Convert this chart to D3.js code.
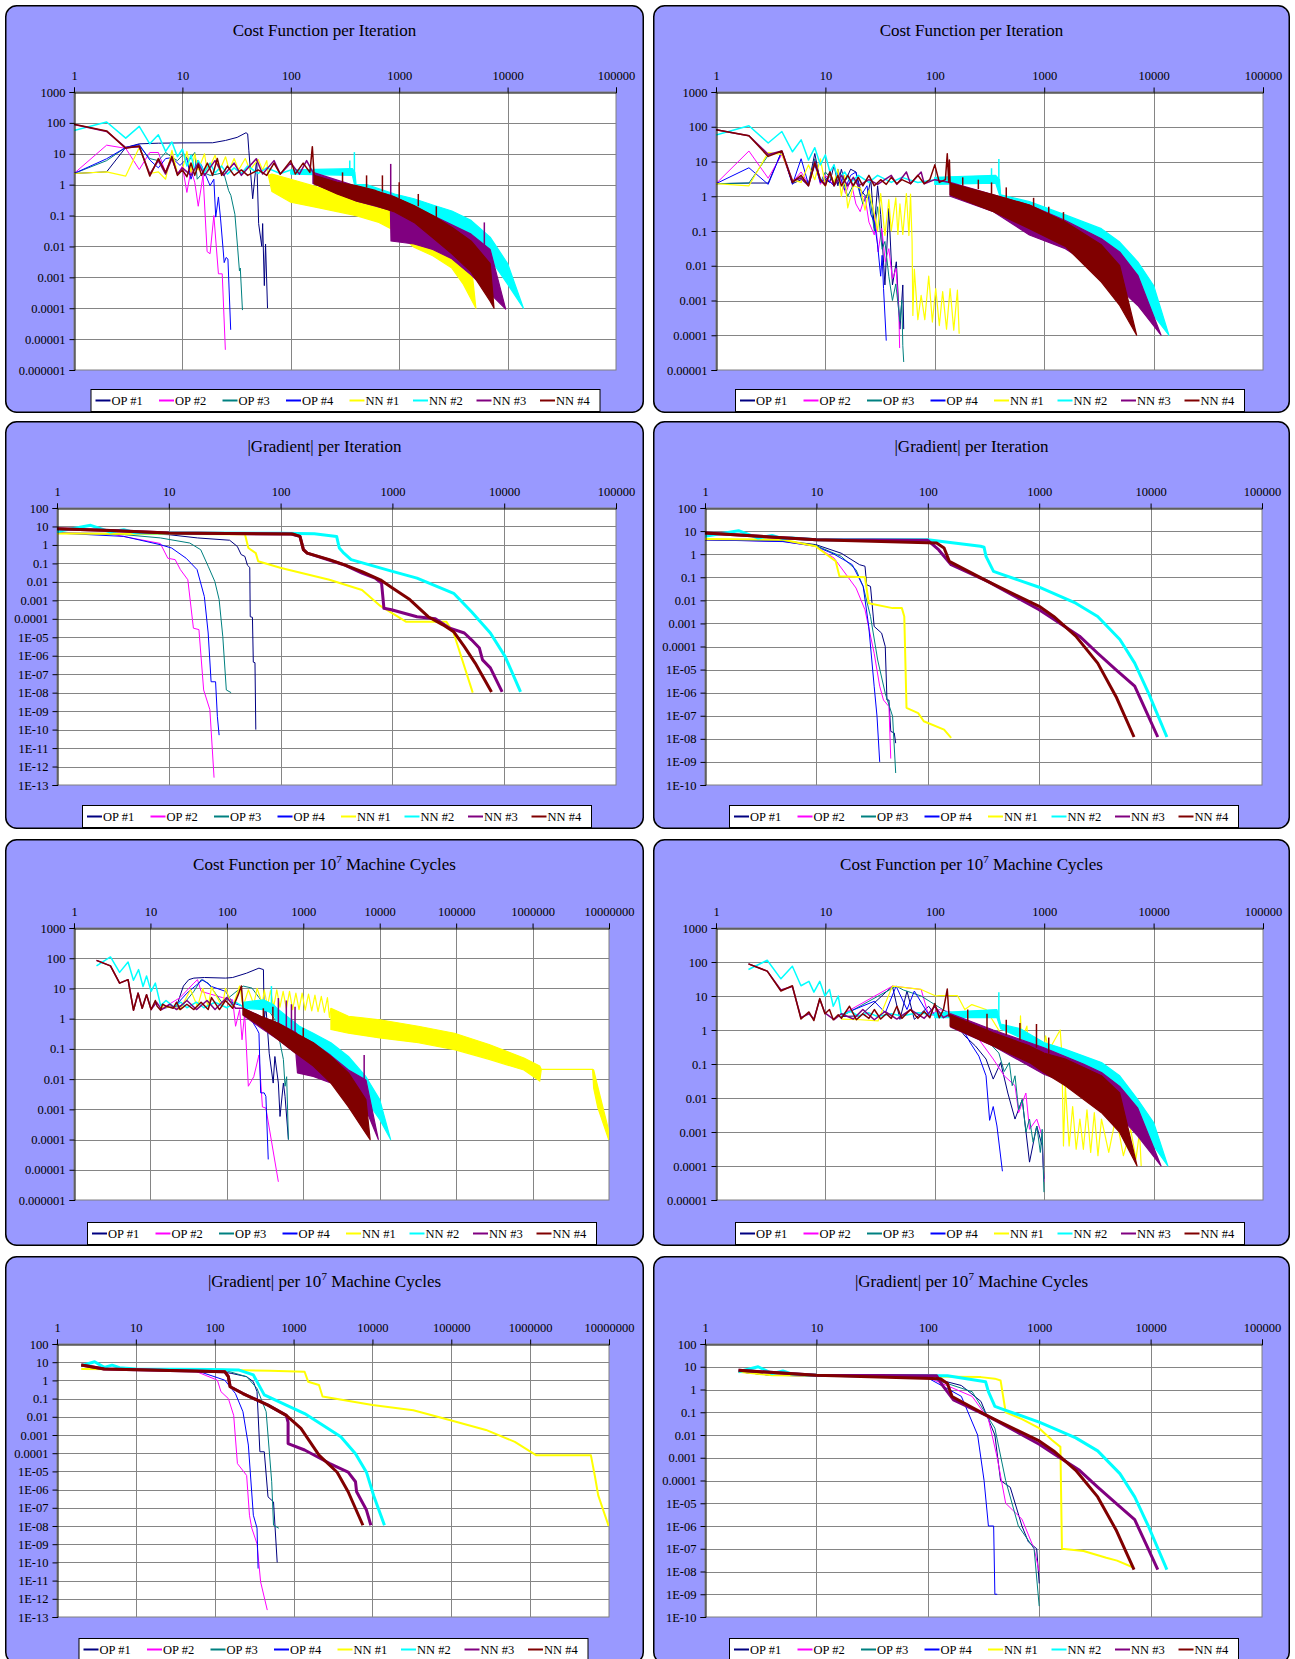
<!DOCTYPE html>
<html>
<head>
<meta charset="utf-8">
<script src="https://cdn.jsdelivr.net/npm/d3@7"></script>
<style>
  body { margin: 0; background: #ffffff; }
  svg text { font-family: "Liberation Serif", "Times New Roman", Times, serif; fill: #000; }
</style>
</head>
<body>
<svg id="chart" width="1295" height="1659"></svg>
<script>
// ---------- series, colours, tick labels ----------
const seriesNames  = ["OP #1", "OP #2", "OP #3", "OP #4", "NN #1", "NN #2", "NN #3", "NN #4"];
const seriesColors = ["#000080", "#FF00FF", "#008080", "#0000FF", "#FFFF00", "#00FFFF", "#800080", "#800000"];
const xTickLabels    = ["1", "10", "100", "1000", "10000", "100000", "1000000", "10000000"];
const costTickLabels = ["1000", "100", "10", "1", "0.1", "0.01", "0.001", "0.0001", "0.00001", "0.000001"];
const gradTickLabels = ["100", "10", "1", "0.1", "0.01", "0.001", "0.0001", "1E-05", "1E-06", "1E-07",
                        "1E-08", "1E-09", "1E-10", "1E-11", "1E-12", "1E-13"];

// Series are [x, y] points; dense oscillating stretches are [x, upper, lower] envelopes;
// isolated spikes are [x, base, peak].

// ---------- A: cost per iteration (left) ----------
const A_op1 = [[1,2.3],[2,2.6],[3,16],[4,21],[6,22],[10,22.5],[19,22.7],[25,27],[32,34],[38.6,48],[40,44],[41,13],[44.5,0.35],[48.5,6.9],[50.5,0.055],[54,0.01],[55,0.055],[57,5.4e-4],[58.5,0.012],[61,1e-4]];
const A_op2 = [[1,2.3],[2,19],[3,15],[4,3.1],[5,11],[6,11],[7,2.5],[8,9],[9,2.2],[10,4],[11,0.56],[12,3],[13,1.2],[14,0.2],[15.5,2],[16.9,0.0068],[18,0.0058],[19.5,0.1],[21.5,0.0013],[23.3,0.0013],[24.9,4.5e-6]];
const A_op3 = [[1,2.3],[2,6],[3,16],[4,18],[5,7],[6,6],[7,11],[8,7.8],[9,6],[10.3,10],[11.5,6],[13,11],[13.7,1.5],[15.5,2.5],[18,2],[21,2.2],[24,2.5],[26.7,0.64],[28,0.45],[30.5,0.11],[32.3,0.0094],[33.6,0.0016],[34.2,0.002],[35.8,8.7e-5]];
const A_op4 = [[1,2.3],[2,6.9],[3,16],[4,20],[5,6.3],[6,3.5],[7,7],[8,7.5],[9.5,4.2],[11,7],[12,1.5],[13.7,6],[14.9,4.5],[18,0.93],[19.5,1.5],[20.3,0.089],[21.5,0.4],[22.5,0.078],[24.3,0.003],[25.3,0.0044],[26.3,0.0039],[27.9,2e-5]];
const A_nn1 = [[1,2.3],[2,2.6],[3,1.9],[4,16],[5,2.3],[6,2.6],[7,1.5],[8,13],[9,2.3],[10,3],[11,12],[12,2.5],[13,10],[14,3],[16,10],[17,2.5],[20,9],[22,2.8],[25,8],[27,3],[30,7],[33,3],[38,7],[42,3],[50,6.5],[55,3],[60,6],[62,2]];
const A_nn1_band = [[62,2,2],[67,2.2,0.6],[100,1.5,0.27],[178,0.83,0.18],[400,0.4,0.1],[650,0.21,0.06],[909,0.13,0.032],[1370,0.055,0.0094],[2040,0.04,0.005],[3060,0.025,0.002],[3900,0.01,6e-4],[4600,0.003,2e-4],[5100,1e-4,1e-4]];
const A_nn2 = [[1,57],[2,107],[3,32],[4,77],[5,21],[6,41],[7,12],[8,24],[9,8],[10,14],[11,4],[12,9],[13,3],[14,6],[16,2.5],[18,5],[20,2.4],[23,4],[26,2.2],[30,3.5],[35,2.3],[40,4],[50,2.3],[60,3.5],[80,2.3],[100,3]];
const A_nn2_band = [[100,3,2.2],[370,3.3,2],[390,2.5,0.9],[400,1,0.75],[500,1,0.6],[909,0.5,0.2],[1370,0.35,0.12],[2040,0.22,0.07],[3060,0.14,0.04],[4600,0.07,0.019],[6900,0.02,0.004],[10000,0.0028,6e-4],[14000,1e-4,1e-4]];
const A_nn2_spikes = [[350,2.5,6.1],[386,2.5,11.3]];
const A_nn3 = [[1,88],[2,53],[3,16],[4,17],[5,2.2],[6,6],[7,2.2],[8,7],[9,2.2],[10,3.5],[12,2],[14,5],[16,2],[20,6],[24,2],[30,5],[35,2],[48,6.9],[55,2.2],[70,6],[80,2.2],[100,5],[120,2.2],[140,6],[160,2.5]];
const A_nn3_band = [[160,2.5,1.1],[400,0.9,0.3],[830,0.45,0.15],[840,0.45,0.015],[1370,0.2,0.012],[2040,0.1,0.008],[3060,0.05,0.004],[4600,0.025,0.0012],[6900,0.008,3e-4],[9600,9.4e-5,9.4e-5]];
const A_nn3_spikes = [[835,0.45,4.7],[6100,0.01,0.06]];
const A_nn4 = [[1,91],[2,55],[3,15],[4,18],[5,1.9],[6,7],[7,2.5],[8,8],[9,2],[10,3],[11,1.8],[12,5],[13,2],[14,4.5],[15,2],[17,5],[19,2],[21,7],[23,2],[26,4],[30,2],[35,3],[40,2],[50,3],[60,2],[70,5],[80,2.2],[100,6],[110,2.2],[130,5],[150,2.5],[158,17],[164,2]];
const A_nn4_band = [[164,2,1.07],[267,1.2,0.5],[400,0.94,0.3],[604,0.65,0.21],[909,0.4,0.13],[1370,0.21,0.06],[2040,0.1,0.019],[3060,0.042,0.0058],[4600,0.015,0.0015],[6900,0.0028,1.7e-4],[7500,1e-4,1e-4]];
const A_nn4_spikes = [[300,1,2.5],[500,0.8,2],[700,0.6,2],[1000,0.35,1.2],[1500,0.2,0.5],[2200,0.08,0.2]];

// ---------- B: cost per iteration (right) ----------
const B_op1 = [[1,2.3],[2,2.4],[3,2.4],[4,20],[5,2.3],[6,3],[7,2.2],[8,17],[9,2.5],[10,3],[11,2.5],[12,8],[13,2],[14,6],[15,2.5],[17,6],[19,5],[21,1.5],[24,0.9],[26,3],[28,0.12],[30,2],[32,0.3],[35,0.0028],[38,0.45],[41,0.0028],[44.5,0.013],[48,1.5e-4],[51,0.0028],[52,1.5e-4]];
const B_op2 = [[1,2.3],[2,20],[3,3.3],[4,16],[5,2.5],[6,5],[7,2.3],[8,10],[9,2.2],[10,4],[12,2],[13,5],[15.3,1.2],[17,3],[19,0.6],[20.8,0.36],[23,1],[25,0.18],[28,0.077],[28.5,0.3],[30.3,0.025],[32.7,0.12],[35.3,0.013],[38,0.031],[41,0.0042],[44.3,0.0083],[47,3.7e-4],[47.7,4.3e-5]];
const B_op3 = [[1,2.3],[2,2.4],[3,15],[4,19],[5,2.5],[6,3.5],[7,2.3],[8,12],[9,2.5],[10,5],[12,2.5],[14,4],[16,1],[19,3],[22,0.6],[25,1.5],[28,0.1],[30,0.5],[33,0.03],[35,0.05],[38,0.005],[41,0.001],[44,0.003],[48,2.5e-4],[50,0.001],[51,5e-5],[52,1.7e-5]];
const B_op4 = [[1,2.3],[2,6.6],[3,2.2],[4,20],[5,2.2],[6,12],[7,2.2],[8,8],[9,2.5],[10,3.5],[12,2],[13,6],[15,1.5],[17,4],[19,5],[21,1],[24,2],[26,0.3],[28,0.18],[30,0.04],[32,0.005],[33,0.02],[34,0.0022],[36,7e-5]];
const B_nn1 = [[1,2.3],[2,2],[3,18],[4,16],[5,3],[6,2.5],[7,8],[8,3],[9,12],[10,2],[11,5],[12,2.5],[13,6],[14,1],[15,4],[16,0.46],[18,2],[21,1.7],[23,0.4],[25,1.5],[28,0.3],[30,0.1],[32,1.2],[35,0.075],[38,0.8],[40,0.1],[44,0.9],[46,0.08],[48,0.6],[51,0.08],[55,1.2],[58,0.075],[60,1.15],[62,0.05],[63,3.7e-4],[65,0.008],[70,2.8e-4],[75,0.0014],[81,2.8e-4],[88,0.005],[95,2.4e-4],[102,0.0022],[110,1.9e-4],[118,0.0018],[128,1.5e-4],[138,0.0022],[149,1.4e-4],[161,0.002],[167,1.1e-4]];
const B_nn2 = [[1,58],[2,107],[3,34],[4,73],[5,19],[6,42],[7,11],[8,25],[9,8],[10,15.5],[11,5],[12,8],[13,3],[15,5],[17,2.5],[20,4],[25,2.5],[30,4],[40,2.5],[50,3.5],[70,2.5],[100,3]];
const B_nn2_band = [[100,3.5,2.2],[360,4,2.4],[390,3,1.1],[400,1.1,0.56],[733,0.7,0.36],[1560,0.29,0.117],[3330,0.117,0.04],[4900,0.048,0.013],[7170,0.013,0.0022],[10000,0.0027,3.7e-4],[13800,1e-4,1e-4]];
const B_nn2_spikes = [[330,3,6.4],[385,2.4,11.8]];
const B_nn3 = [[1,82],[2,55],[3,16],[4,20],[5,2.8],[6,3.3],[7,2],[8,10],[9,3],[10,2.2],[11,5],[12,2],[14,4],[16,2],[18,3.5],[20,2],[25,3],[30,2.2],[40,4],[45,2.2],[55,5],[60,2.3],[75,5],[80,2.3],[100,3],[138,2.5]];
const B_nn3_band = [[138,2.5,1],[344,1.1,0.36],[733,0.56,0.077],[1560,0.2,0.031],[3330,0.06,0.0066],[4900,0.025,2.2e-3],[7170,0.0053,7.2e-4],[11700,1e-4,1e-4]];
const B_nn4 = [[1,82],[2,55],[3,14],[4,20],[5,2.5],[6,4],[7,2],[8,9],[9,3],[10,2],[11,5],[12,2],[13,4],[14,2],[16,4],[18,2],[20,3.5],[22,2],[25,4],[28,2],[32,3],[36,2.2],[40,3.5],[45,2.3],[50,3],[60,2.3],[70,4],[80,2.3],[90,3],[100,8],[110,2.5],[125,3],[130,16.6],[134,2.5],[136,11],[138,2.36]];
const B_nn4_band = [[138,2.36,1.1],[344,1.1,0.36],[733,0.56,0.117],[1560,0.18,0.036],[3330,0.04,0.0034],[4900,0.01,7.2e-4],[7000,1e-4,1e-4]];
const B_nn4_spikes = [[180,2,3.5],[250,1.6,3],[330,1.1,2.5],[450,0.9,1.8],[800,0.45,0.9],[1100,0.25,0.5],[1500,0.15,0.35]];

// ---------- C: |gradient| per iteration (left) ----------
const C_op1 = [[1,4.4],[5,4.1],[10,3.6],[18,2.4],[35,1.8],[41,0.83],[44.4,0.3],[47.9,0.24],[50.5,0.08],[53,0.06],[53.5,1.3e-4],[56,1.2e-4],[57,4.5e-7],[59,4.2e-7],[60,1e-10]];
const C_op2 = [[1,4.4],[3,4],[4.6,2.4],[8.4,1.2],[9.8,0.19],[11.4,0.16],[12.7,0.046],[14.8,0.013],[16.6,3.1e-5],[18.6,2.6e-5],[20.5,1.4e-8],[23.3,1.2e-9],[25.4,2.5e-13]];
const C_op3 = [[1,4.4],[4,3.6],[8.4,2.4],[15.4,1.27],[19.3,0.55],[22.5,0.07],[25.8,0.0105],[28.2,0.0011],[30.4,1.1e-5],[32.7,1.4e-8],[36.1,1e-8]];
const C_op4 = [[1,4.4],[3.95,2.9],[8.4,1.03],[10.6,0.68],[14.3,0.19],[17.9,0.046],[20.8,1.6e-3],[22.5,1.7e-5],[23.9,3.9e-8],[26.2,3.9e-8],[27.2,5e-10],[28.2,5e-11]];
const C_nn1 = [[1,4.1],[10,3.9],[48,3.8],[51.5,0.68],[60,0.36],[63,0.13],[101,0.056],[273,0.013],[535,0.0036],[780,5e-4],[1320,7e-5],[3030,7e-5],[3530,1.7e-5],[5230,1e-8]];
const C_nn2 = [[1,5.4],[2,11.5],[3,5],[3.95,6.7],[5,4.6],[10,4.4],[100,4.3],[200,4],[317,2.9],[335,0.68],[368,0.36],[427,0.16],[1000,0.037],[1660,0.016],[3530,0.0024],[5100,2.4e-4],[7520,1.7e-5],[10200,9e-7],[14000,1.1e-8]];
const C_nn3 = [[1,7.6],[3,6],[10,4.4],[124,3.9],[149,2.9],[160,0.55],[173,0.36],[368,0.085],[535,0.03],[700,0.016],[800,0.0085],[840,3.7e-4],[980,3.1e-4],[1660,1.3e-4],[2420,1e-4],[3260,3.1e-5],[4400,1.7e-5],[5100,7.3e-6],[6000,2.6e-6],[6400,6e-7],[7520,2.2e-7],[9580,1.1e-8]];
const C_nn4 = [[1,7.6],[3,6],[10,4.4],[128,3.9],[149,2.9],[160,0.55],[173,0.36],[273,0.16],[368,0.085],[535,0.036],[780,0.013],[1000,0.0046],[1430,1.1e-3],[2090,1.3e-4],[2830,4.7e-5],[3530,2e-5],[4400,3.1e-6],[5500,4e-7],[7700,1.1e-8]];

// ---------- D: |gradient| per iteration (right) ----------
const D_op1 = [[1,4.2],[5,3.8],[9.85,2.6],[16.7,1.1],[24.4,0.35],[27.3,0.3],[28.3,0.047],[30.6,0.04],[33,7.4e-4],[38.5,3.8e-4],[41.5,1e-4],[43,4.8e-7],[44.8,4.8e-7],[46.5,2.1e-8],[50,1.8e-8],[51.5,6.5e-9]];
const D_op2 = [[1,4.2],[5,3.6],[9.85,2.2],[14.4,0.68],[22.7,0.034],[27.3,3.9e-3],[33,5.1e-5],[37,1.9e-6],[40,4.8e-7],[44.8,2.5e-7],[46.5,1.4e-9]];
const D_op3 = [[1,4.2],[5,3.7],[9.85,2.4],[16.7,0.8],[22.7,0.21],[26.3,0.04],[30.6,2e-3],[35.5,2.6e-5],[41.5,9.3e-7],[48.3,9.5e-8],[51.5,3.3e-10]];
const D_op4 = [[1,4.2],[5,3.5],[9.85,2.2],[14.4,1],[21,0.35],[26.3,0.04],[29.5,7.4e-4],[33,1.9e-6],[35,9.5e-8],[37,1e-9]];
const D_nn1 = [[1,4.5],[5,4.2],[9.85,2.2],[14.9,0.49],[16.1,0.11],[27.3,0.1],[29.5,7.5e-3],[48.3,4.6e-3],[58.5,4.6e-3],[61.5,2e-3],[64.4,2.2e-7],[82,1.3e-7],[92,5.8e-8],[140,2.5e-8],[162,1.1e-8]];
const D_nn2 = [[1,5.9],[2,10.4],[3,5],[4,6.5],[5,4.7],[6,5],[10,4.2],[100,4.2],[298,2.2],[320,2],[333,0.8],[389,0.18],[470,0.13],[1000,0.037],[2130,7.5e-3],[3350,2e-3],[5300,2e-4],[7200,1.9e-5],[9600,9.3e-7],[14000,1.2e-8]];
const D_nn3 = [[1,8.3],[10,4.2],[100,4],[125,1.56],[162,0.35],[345,0.066],[1000,3.9e-3],[1350,1.5e-3],[2300,2.8e-4],[3350,5.1e-5],[4900,9.8e-6],[7200,1.9e-6],[9000,1.8e-7],[11600,1.2e-8]];
const D_nn4 = [[1,8.3],[10,4.2],[120,3.05],[140,1.85],[156,0.49],[345,0.066],[1000,5.5e-3],[1350,2e-3],[2130,2.8e-4],[3350,1.9e-5],[4900,6.7e-7],[7100,1.2e-8]];

// ---------- E: cost per 10^7 machine cycles (left) ----------
const E_op1 = [[14.4,2.2],[22,2.6],[27,12],[31.7,19.5],[37,22],[51,23],[96,22],[119,23],[181,32],[263,47],[301,42],[308,0.92],[324,2.6],[358,0.072],[404,0.0074],[425,0.056],[472,0.0074],[496,5.8e-4],[549,0.0074],[577,0.0027],[639,1e-4]];
const E_op2 = [[14.4,2.2],[24.5,5],[37,15],[41.3,19.5],[46,8],[87,5],[119,4.2],[130,0.56],[147,2],[158,0.2],[171,1.5],[191,0.0058],[225,0.012],[263,0.063],[292,0.0012],[324,0.0011],[472,4e-6]];
const E_op3 = [[22,2.4],[27,3],[37,8],[46,19.5],[57,15],[87,3.3],[163,12],[213,10.3],[263,5],[348,2],[425,0.92],[496,0.16],[549,0.045],[577,0.0058],[606,0.012],[639,1e-4]];
const E_op4 = [[19.8,2.2],[30,7],[48.4,19.5],[63,11.6],[96,8],[119,3.3],[163,2.6],[249,0.44],[263,0.33],[277,0.0035],[308,0.0035],[324,0.0027],[348,2.2e-5]];
const E_nn1 = [[13.6,2.4],[19.8,2.4],[24.5,2],[33.4,9],[41.3,2.5],[48.4,10],[57,2.5],[63,11],[87,2.5],[96,10],[119,2.5],[147,12],[163,2.5],[191,9],[225,3],[249,10],[292,3],[308,9],[340,2.6],[373,8.5],[410,2.5],[450,9],[495,2.4],[545,8],[600,2.2],[660,8],[725,2],[800,7],[880,2],[965,7],[1060,1.9],[1170,6.5],[1290,1.8],[1420,6],[1560,1.7],[1720,5.5],[1890,1.6],[2070,5],[2200,1.1],[2300,2.2]];
const E_nn1_band = [[2300,2.2,0.44],[3900,1.2,0.33],[10000,0.92,0.23],[32000,0.56,0.16],[95000,0.33,0.095],[270000,0.14,0.045],[770000,0.05,0.02],[1240000,0.027,0.0086],[1300000,0.021,0.021],[6100000,0.021,0.021],[6300000,0.02,0.005],[7100000,0.0058,0.0012],[9900000,2e-4,1e-4]];
const E_nn2 = [[1.97,56],[3,110],[3.95,34],[5.1,75],[6,18.6],[7,42],[8,11.6],[8.9,26],[10.2,8],[11.6,15],[13.6,2.7],[16,4],[20,2.5],[25,3.5],[30,2.3],[40,3.5],[50,2.3],[70,3.5],[100,2.3],[130,3.5],[163,2.5]];
const E_nn2_band = [[163,3.5,2.2],[300,4.2,2],[400,3,1.5],[472,2,0.7],[890,0.56,0.2],[1350,0.33,0.09],[2300,0.16,0.045],[3900,0.056,0.012],[6600,0.012,0.0021],[10000,0.0021,4.6e-4],[13900,1e-4,1e-4]];
const E_nn2_spikes = [[383,2.5,12]];
const E_nn3 = [[1.97,85],[3,56],[3.95,15],[5.1,19.5],[6,1.9],[6.9,7],[7.8,2.2],[8.9,6.2],[10.2,2],[12,3.5],[14,2],[18,3],[22,2],[30,4],[40,2],[55,4],[70,2],[100,5],[130,2.2],[163,2.2]];
const E_nn3_band = [[163,2.2,1.3],[277,1.2,0.5],[472,0.7,0.2],[800,0.35,0.07],[840,0.3,0.016],[1350,0.16,0.0123],[2300,0.06,0.0074],[3900,0.02,0.0035],[6600,0.0094,0.001],[9600,1e-4,1e-4]];
const E_nn3_spikes = [[472,0.7,4.8],[600,0.5,4],[700,0.4,3],[780,0.3,2.5],[6260,0.01,0.063]];
const E_nn4 = [[1.97,85],[3,56],[3.95,15],[5.1,19.5],[6,1.9],[6.9,7],[7.8,2.2],[8.9,6.2],[10.2,2],[11.6,4],[12.2,2.6],[13.6,1.9],[14.4,3],[16,2.6],[19.8,2.2],[22,3.5],[24.5,2],[30,3],[37,2],[46,3.5],[57,2],[63,5],[80,2],[96,4],[119,2.2],[140,6],[155,12],[163,2.2]];
const E_nn4_band = [[163,2.2,1.36],[277,1.2,0.56],[472,0.7,0.2],[800,0.33,0.072],[1350,0.16,0.027],[2300,0.056,0.0074],[3900,0.016,0.0012],[6600,0.0021,1.6e-4],[7500,1e-4,1e-4]];
const E_nn4_spikes = [[300,0.9,2.2],[400,0.7,2.5],[1000,0.2,0.5]];

// ---------- F: cost per 10^7 machine cycles (right) ----------
const F_op1 = [[14,2.5],[20.8,2.6],[41,19.5],[48,2.05],[55.7,14],[65,2.05],[88,5],[102,2.5],[138,2.6],[188,0.67],[235,0.34],[294,0.14],[342,0.036],[400,0.11],[465,0.014],[541,0.0024],[630,0.009],[734,1.3e-4],[855,0.0015],[958,3.9e-4],[995,4.2e-5]];
const F_op2 = [[14,2.8],[41,19.5],[75,15.6],[88,2.6],[110,4],[161,3],[253,0.53],[342,0.14],[431,0.045],[541,0.023],[584,0.0037],[680,0.014],[734,0.0012],[855,0.0024],[958,7.6e-4],[995,3.4e-5]];
const F_op3 = [[14,2.5],[44.3,19.5],[51.7,15],[75,10],[118,4],[188,1.6],[294,0.53],[385,0.21],[431,0.06],[480,0.11],[510,0.023],[541,0.045],[584,0.0045],[630,0.009],[680,0.001],[734,0.0024],[792,5e-4],[855,0.0015],[922,2.5e-4],[958,0.0012],[995,1.7e-5]];
const F_op4 = [[14,2.8],[28,7],[35.3,3.2],[44.3,19.5],[55.7,4],[65,14],[88,2.8],[118,2.8],[161,2.05],[210,0.43],[253,0.17],[294,0.045],[317,0.0022],[342,0.0056],[370,0.0015],[415,7e-5]];
const F_nn1 = [[14,2.1],[20.8,2],[30.3,1.85],[41,19.5],[75,15.6],[102,10],[110,10.3],[161,10.3],[188,4],[218,5.6],[294,4],[400,0.8],[600,0.5],[607,2.6],[620,0.5],[695,1.3],[710,0.4],[1000,0.3],[1030,0.67],[1100,0.25],[1400,1],[1450,0.2],[1500,3.9e-4],[1560,0.023],[1690,3.9e-4],[1820,0.0056],[1960,3.1e-4],[2120,0.0024],[2280,3.1e-4],[2460,0.0045],[2660,2.5e-4],[2870,0.0037],[3100,2e-4],[3340,0.0024],[3890,2.5e-4],[4540,0.003],[5290,2e-4],[6170,0.0012],[6900,1.6e-4],[7440,0.001],[7700,1e-4]];
const F_nn2 = [[1.98,60],[2.94,113],[3.92,32],[4.99,75],[5.98,20],[7.07,27],[7.85,13],[8.88,27],[9.9,10],[10.9,15.6],[11.8,5],[13.1,10],[14,2.8],[17,3.5],[20,2.6],[25,3.2],[30,2.5],[40,3],[50,2.6],[70,3.2],[100,2.8]];
const F_nn2_band = [[100,3.2,2.3],[370,4,2.3],[400,1.5,1.1],[600,1.1,0.6],[995,0.43,0.21],[1560,0.27,0.14],[3340,0.11,0.036],[4900,0.045,0.012],[7170,0.009,0.0019],[10000,0.0019,3.9e-4],[13500,1e-4,1e-4]];
const F_nn2_spikes = [[385,2.3,13]];
const F_nn3 = [[1.98,88],[2.94,54],[3.92,15],[4.99,19],[5.98,2.3],[7.07,3],[7.85,2.1],[8.88,8],[9.9,3.2],[12,2],[14,3],[18,2.1],[22,4],[28,2],[35,3.5],[45,2.1],[60,4],[80,2.2],[100,5],[120,2.3],[140,3]];
const F_nn3_band = [[140,3,1.2],[342,1,0.34],[995,0.3,0.05],[2280,0.1,0.018],[3340,0.056,0.01],[4900,0.022,0.003],[7170,0.005,7.6e-4],[11700,1e-4,1e-4]];
const F_nn4 = [[1.98,88],[2.94,54],[3.92,14],[4.99,20],[5.98,2.1],[7.07,3.4],[7.85,1.9],[8.88,8.5],[9.9,3],[10.9,4],[11.8,2],[13.1,2.8],[14,2.2],[16.6,5],[19.2,2],[22,3],[25,2.2],[28,4],[32,2.1],[36,3],[40,2.2],[45,5],[50,2.2],[60,4],[70,2.2],[80,3.5],[90,2.3],[100,6],[110,2.3],[120,4],[130,16],[135,2.5],[138,2.8]];
const F_nn4_band = [[138,2.8,1.3],[342,0.83,0.34],[734,0.34,0.11],[995,0.21,0.056],[1560,0.14,0.023],[3340,0.045,0.0037],[4900,0.014,9.7e-4],[7060,1e-4,1e-4]];
const F_nn4_spikes = [[200,1.5,4],[300,1,3],[450,0.7,2],[600,0.5,1.6],[850,0.3,1.5],[1100,0.2,0.6]];

// ---------- G: |gradient| per 10^7 machine cycles (left) ----------
const G_op1 = [[17.9,4],[87.6,3.8],[165,2.4],[254,1.6],[309,0.85],[344,0.24],[374,1.2e-4],[425,1.2e-4],[474,4e-7],[557,2.1e-7],[620,1e-10]];
const G_op2 = [[17.9,4],[51.6,3.8],[108,1.03],[120,0.24],[149,0.1],[174,0.012],[194,2.7e-5],[254,6e-6],[276,3.9e-8],[295,7.7e-9],[344,1.05e-9],[382,8.5e-12],[464,2.4e-13]];
const G_op3 = [[17.9,4],[134,3.6],[254,1.6],[344,0.36],[449,0.019],[528,2.7e-6],[557,1.1e-8],[652,7.5e-9]];
const G_op4 = [[17.9,4],[57,3.6],[134,1.03],[183,0.19],[228,0.019],[267,2.8e-4],[309,3.9e-8],[344,7.7e-9],[355,4.6e-11]];
const G_nn1 = [[2.03,4.2],[100,3.8],[500,3.4],[1380,3],[1530,0.85],[2100,0.56],[2330,0.13],[10000,0.044],[33000,0.023],[95000,6.6e-3],[275000,1.9e-3],[640000,4.2e-4],[1200000,7.6e-5],[5900000,7.6e-5],[6600000,6e-6],[7300000,4.8e-7],[9900000,1e-8]];
const G_nn2 = [[2.03,6.4],[3,10.6],[3.97,5.2],[5,6.9],[6.2,5],[10,4.2],[87.6,4],[204,3.7],[309,2],[425,0.16],[808,0.044],[1380,0.015],[2330,3.5e-3],[3970,8e-4],[6100,9.4e-5],[8400,9.1e-6],[10350,4.8e-7],[14200,1.1e-8]];
const G_nn3 = [[2.03,7],[3.97,4.2],[134,3],[149,1.6],[157,0.45],[228,0.19],[474,0.044],[808,0.012],[852,0.005],[852,3.4e-4],[1380,1.5e-4],[2880,2.7e-5],[4920,9.1e-6],[6100,2.7e-6],[6300,7.6e-7],[8400,7.5e-8],[9550,1.1e-8]];
const G_nn4 = [[2.03,7],[3.97,4.2],[134,3],[149,1.6],[157,0.45],[228,0.19],[474,0.044],[808,0.012],[1240,2.3e-3],[2100,7.8e-5],[3570,9e-6],[4920,7.6e-7],[7570,1.1e-8]];

// ---------- H: |gradient| per 10^7 machine cycles (right) ----------
const H_op1 = [[2,6],[4,4.2],[100,3.6],[200,1.5],[300,0.3],[400,0.01],[450,1e-4],[550,5e-5],[700,1e-6],[800,2e-7],[950,1e-7],[1000,3e-9]];
const H_op2 = [[2,6],[4,4.2],[100,3.4],[250,0.5],[350,0.05],[420,1e-3],[500,1e-5],[700,2e-6],[900,1e-7],[1000,1e-8]];
const H_op3 = [[2,6],[4,4.2],[100,3.5],[250,0.8],[400,0.02],[500,1e-4],[650,1e-6],[900,1e-7],[1000,3e-10]];
const H_op4 = [[2,6],[4,4.2],[100,3.2],[200,0.5],[280,0.01],[320,1e-4],[350,1e-6],[390,1e-6],[400,1e-9],[420,1e-9]];
const H_nn1 = [[2,6],[4,4.2],[300,3.5],[400,3],[450,2.5],[500,0.1],[700,0.05],[1000,0.02],[1300,0.006],[1550,0.003],[1600,1e-7],[2500,8e-8],[4000,4e-8],[5000,3e-8],[7000,1.5e-8]];
const H_nn2 = [[2,6],[3,10],[4,5],[5,6.5],[6,4.8],[10,4.2],[150,4],[330,2.2],[350,0.8],[400,0.18],[480,0.13],[1000,0.037],[2130,7.5e-3],[3350,2e-3],[5300,2e-4],[7200,1.9e-5],[9600,9.3e-7],[14000,1.2e-8]];
const H_nn3 = [[2,7],[10,4.2],[120,4],[135,1.56],[170,0.35],[350,0.066],[1000,3.9e-3],[1350,1.5e-3],[2300,2.8e-4],[3350,5.1e-5],[4900,9.8e-6],[7200,1.9e-6],[9000,1.8e-7],[11600,1.2e-8]];
const H_nn4 = [[2,7],[10,4.2],[130,3],[150,1.85],[165,0.49],[350,0.066],[1000,5.5e-3],[1350,2e-3],[2130,2.8e-4],[3350,1.9e-5],[4900,6.7e-7],[7100,1.2e-8]];

// ---------- layout ----------
const cols = [{ x: 5, w: 639 }, { x: 653, w: 637 }];
const rows = [
  { top: 5,    h: 408, pt: 92,   pb: 370,  lg: 389 },
  { top: 421,  h: 408, pt: 508,  pb: 785,  lg: 805 },
  { top: 839,  h: 407, pt: 928,  pb: 1200, lg: 1222 },
  { top: 1256, h: 408, pt: 1344, pb: 1617, lg: 1638 }
];

const costIter = ["Cost Function per Iteration"];
const gradIter = ["|Gradient| per Iteration"];
const costCyc  = ["Cost Function per 10", "7", " Machine Cycles"];
const gradCyc  = ["|Gradient| per 10", "7", " Machine Cycles"];
const none8    = [null, null, null, null, null, null, null, null];

const panels = [
  { title: costIter, row: 0, col: 0, pl: 74,  pr: 616,  xDec: 5, yMax: 3, yMin: -6,  grad: false,
    lines: [A_op1, A_op2, A_op3, A_op4, A_nn1, A_nn2, A_nn3, A_nn4],
    bands: [null, null, null, null, A_nn1_band, A_nn2_band, A_nn3_band, A_nn4_band],
    spikes: [null, null, null, null, null, A_nn2_spikes, A_nn3_spikes, A_nn4_spikes] },
  { title: costIter, row: 0, col: 1, pl: 716, pr: 1263, xDec: 5, yMax: 3, yMin: -5,  grad: false,
    lines: [B_op1, B_op2, B_op3, B_op4, B_nn1, B_nn2, B_nn3, B_nn4],
    bands: [null, null, null, null, null, B_nn2_band, B_nn3_band, B_nn4_band],
    spikes: [null, null, null, null, null, B_nn2_spikes, null, B_nn4_spikes] },
  { title: gradIter, row: 1, col: 0, pl: 57,  pr: 616,  xDec: 5, yMax: 2, yMin: -13, grad: true,
    lines: [C_op1, C_op2, C_op3, C_op4, C_nn1, C_nn2, C_nn3, C_nn4], bands: none8, spikes: none8 },
  { title: gradIter, row: 1, col: 1, pl: 705, pr: 1262, xDec: 5, yMax: 2, yMin: -10, grad: true,
    lines: [D_op1, D_op2, D_op3, D_op4, D_nn1, D_nn2, D_nn3, D_nn4], bands: none8, spikes: none8 },
  { title: costCyc,  row: 2, col: 0, pl: 74,  pr: 609,  xDec: 7, yMax: 3, yMin: -6,  grad: false,
    lines: [E_op1, E_op2, E_op3, E_op4, E_nn1, E_nn2, E_nn3, E_nn4],
    bands: [null, null, null, null, E_nn1_band, E_nn2_band, E_nn3_band, E_nn4_band],
    spikes: [null, null, null, null, null, E_nn2_spikes, E_nn3_spikes, E_nn4_spikes] },
  { title: costCyc,  row: 2, col: 1, pl: 716, pr: 1263, xDec: 5, yMax: 3, yMin: -5,  grad: false,
    lines: [F_op1, F_op2, F_op3, F_op4, F_nn1, F_nn2, F_nn3, F_nn4],
    bands: [null, null, null, null, null, F_nn2_band, F_nn3_band, F_nn4_band],
    spikes: [null, null, null, null, null, F_nn2_spikes, null, F_nn4_spikes] },
  { title: gradCyc,  row: 3, col: 0, pl: 57,  pr: 609,  xDec: 7, yMax: 2, yMin: -13, grad: true,
    lines: [G_op1, G_op2, G_op3, G_op4, G_nn1, G_nn2, G_nn3, G_nn4], bands: none8, spikes: none8 },
  { title: gradCyc,  row: 3, col: 1, pl: 705, pr: 1262, xDec: 5, yMax: 2, yMin: -10, grad: true,
    lines: [H_op1, H_op2, H_op3, H_op4, H_nn1, H_nn2, H_nn3, H_nn4], bands: none8, spikes: none8 }
];

// ---------- drawing ----------
const svg = d3.select("#chart");
const defs = svg.append("defs");

function lineWidth(p, i) {
  if (i < 4) return 1;
  if (p.grad) return i === 4 ? 2 : 3;
  return i === 4 ? 1.2 : 1.5;
}

panels.forEach((p, pi) => {
  const row = rows[p.row], col = cols[p.col];
  const g = svg.append("g");

  // panel background
  g.append("rect")
    .attr("x", col.x + 0.75).attr("y", row.top + 0.75)
    .attr("width", col.w - 1.5).attr("height", row.h - 1.5)
    .attr("rx", 11).attr("ry", 11)
    .attr("fill", "#9999FF").attr("stroke", "#000").attr("stroke-width", 1.5);

  // title (with optional superscript)
  const title = g.append("text")
    .attr("x", col.x + col.w / 2).attr("y", row.top + 31)
    .attr("text-anchor", "middle").attr("font-size", 17);
  title.append("tspan").text(p.title[0]);
  if (p.title.length > 1) {
    title.append("tspan").attr("dy", -7).attr("font-size", 11).text(p.title[1]);
    title.append("tspan").attr("dy", 7).text(p.title[2]);
  }

  const x = d3.scaleLog().domain([1, Math.pow(10, p.xDec)]).range([p.pl, p.pr]);
  const y = d3.scaleLog().domain([Math.pow(10, p.yMin), Math.pow(10, p.yMax)]).range([row.pb, row.pt]);

  const xTicks = d3.range(0, p.xDec + 1).map(e => Math.pow(10, e));
  const yExps = d3.range(p.yMax, p.yMin - 1, -1);
  const yTicks = yExps.map(e => Math.pow(10, e));
  const yLabels = (p.grad ? gradTickLabels : costTickLabels).slice(0, yExps.length);

  // plot area
  g.append("rect")
    .attr("x", p.pl).attr("y", row.pt)
    .attr("width", p.pr - p.pl).attr("height", row.pb - row.pt)
    .attr("fill", "#fff").attr("stroke", "#808080").attr("stroke-width", 1);

  // gridlines
  g.append("g").selectAll("line").data(yTicks.slice(1, -1)).join("line")
    .attr("x1", p.pl).attr("x2", p.pr)
    .attr("y1", d => Math.round(y(d)) + 0.5).attr("y2", d => Math.round(y(d)) + 0.5)
    .attr("stroke", "#858585").attr("stroke-width", 1);
  g.append("g").selectAll("line").data(xTicks.slice(1, -1)).join("line")
    .attr("y1", row.pt).attr("y2", row.pb)
    .attr("x1", d => Math.round(x(d)) + 0.5).attr("x2", d => Math.round(x(d)) + 0.5)
    .attr("stroke", "#858585").attr("stroke-width", 1);

  // series, drawn in legend order so NN #4 ends up on top
  const clipId = "clip" + pi;
  defs.append("clipPath").attr("id", clipId).append("rect")
    .attr("x", p.pl).attr("y", row.pt - 1)
    .attr("width", p.pr - p.pl).attr("height", row.pb - row.pt + 2);
  const sg = g.append("g").attr("clip-path", `url(#${clipId})`);

  const line = d3.line().x(d => x(d[0])).y(d => y(d[1]));
  const area = d3.area().x(d => x(d[0])).y0(d => y(d[2])).y1(d => y(d[1]));

  p.lines.forEach((data, i) => {
    const band = p.bands[i], spikes = p.spikes[i];
    if (band) {
      sg.append("path").datum(band).attr("d", area)
        .attr("fill", seriesColors[i]).attr("stroke", seriesColors[i])
        .attr("stroke-width", 1.2).attr("stroke-linejoin", "round");
    }
    if (spikes) {
      sg.append("g").selectAll("line").data(spikes).join("line")
        .attr("x1", d => x(d[0])).attr("x2", d => x(d[0]))
        .attr("y1", d => y(d[1])).attr("y2", d => y(d[2]))
        .attr("stroke", seriesColors[i]).attr("stroke-width", 1.5);
    }
    sg.append("path").datum(data).attr("d", line)
      .attr("fill", "none").attr("stroke", seriesColors[i])
      .attr("stroke-width", lineWidth(p, i)).attr("stroke-linejoin", "round");
  });

  // axes: left and top, black with outward ticks
  const yAxis = d3.axisLeft(y).tickValues(yTicks).tickSize(5).tickPadding(4)
    .tickFormat((d, i) => yLabels[i]);
  const ya = g.append("g").attr("transform", `translate(${p.pl + 0.5},0)`).call(yAxis);
  const xAxis = d3.axisTop(x).tickValues(xTicks).tickSize(5).tickPadding(8)
    .tickFormat((d, i) => xTickLabels[i]);
  const xa = g.append("g").attr("transform", `translate(0,${row.pt + 0.5})`).call(xAxis);
  [ya, xa].forEach(a => {
    a.select(".domain").attr("stroke", "#000");
    a.selectAll(".tick line").attr("stroke", "#000");
    a.selectAll("text").attr("font-size", 12.5)
      .attr("font-family", "'Liberation Serif', 'Times New Roman', serif").attr("fill", "#000");
  });

  // legend, centred under the plot area
  const lw = 509, lx = (p.pl + p.pr) / 2 - lw / 2;
  const lg = g.append("g").attr("transform", `translate(${lx},${row.lg})`);
  lg.append("rect").attr("x", 0.5).attr("y", 0.5).attr("width", lw).attr("height", 22)
    .attr("fill", "#fff").attr("stroke", "#000").attr("stroke-width", 1);
  seriesNames.forEach((name, i) => {
    const ix = 5 + i * 63.5;
    lg.append("line").attr("x1", ix).attr("x2", ix + 15).attr("y1", 11.5).attr("y2", 11.5)
      .attr("stroke", seriesColors[i]).attr("stroke-width", 2);
    lg.append("text").attr("x", ix + 16).attr("y", 16).attr("font-size", 12.5).text(name);
  });
});
</script>
</body>
</html>
